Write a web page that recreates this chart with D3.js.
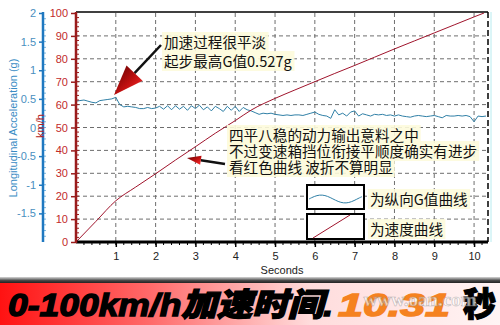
<!DOCTYPE html>
<html>
<head>
<meta charset="utf-8">
<script src="https://cdn.jsdelivr.net/npm/d3@7"></script>
<style>
  body { margin: 0; background: #fff; }
  svg { display: block; }
</style>
</head>
<body>
<div id="chart"></div>
<script>
// speed curve (km/h) against time (s)
var speedTime = [0, 0.5, 1.0, 1.5, 2, 2.5, 3, 3.5, 4, 4.4, 5, 5.5, 6, 6.5, 7, 7.5, 8, 8.5, 9, 9.5, 10, 10.25];
var speedVal = [0, 9, 18, 24, 29.8, 35.8, 41.6, 47.5, 53, 57.6, 62.7, 66.4, 70, 73.6, 77.1, 80.7, 84.3, 87.8, 91.3, 94.8, 98.3, 100];

// longitudinal g, one sample every 0.1 s starting at 0
var gStep = 0.1;
var gVal = [
  0.46, 0.47, 0.48, 0.46, 0.44, 0.43, 0.47, 0.48, 0.49, 0.50,
  0.527, 0.40, 0.36, 0.37, 0.36, 0.35, 0.33, 0.33, 0.35, 0.33,
  0.34, 0.37, 0.32, 0.38, 0.31, 0.38, 0.32, 0.37, 0.30, 0.38,
  0.33, 0.39, 0.31, 0.36, 0.29, 0.37, 0.33, 0.28, 0.37, 0.30,
  0.37, 0.28, 0.35, 0.31, 0.29, 0.26, 0.23, 0.25, 0.24, 0.25,
  0.23, 0.22, 0.21, 0.22, 0.21, 0.22, 0.22, 0.21, 0.23, 0.25,
  0.27, 0.23, 0.21, 0.20, 0.16, 0.31, 0.22, 0.25, 0.20, 0.27,
  0.29, 0.20, 0.24, 0.22, 0.20, 0.23, 0.22, 0.23, 0.21, 0.22,
  0.20, 0.22, 0.20, 0.19, 0.18, 0.20, 0.21, 0.20, 0.19, 0.20,
  0.21, 0.19, 0.17, 0.21, 0.20, 0.20, 0.21, 0.20, 0.21, 0.19,
  0.10, 0.20, 0.19, 0.20
];

var secTicks = [1, 2, 3, 4, 5, 6, 7, 8, 9, 10];
var kmhTicks = [0, 10, 20, 30, 40, 50, 60, 70, 80, 90, 100];
var gTicks = [-1.5, -1, -0.5, 0, 0.5, 1, 1.5, 2];

var note1 = ["加速过程很平淡", "起步最高G值0.527g"];
var note2 = ["四平八稳的动力输出意料之中", "不过变速箱挡位衔接平顺度确实有进步", "看红色曲线  波折不算明显"];
var legendText = ["为纵向G值曲线", "为速度曲线"];

var W = 500, H = 325;
var pL = 76, pR = 488, pT = 13, pB = 242;
var latin = "'Liberation Sans', Arial, sans-serif";
var cjk = "'Noto Sans CJK SC', 'Noto Sans', sans-serif";

var svg = d3.select("#chart").append("svg")
  .attr("width", W)
  .attr("height", H);

var defs = svg.append("defs");
var bg = defs.append("linearGradient").attr("id", "banner");
bg.append("stop").attr("offset", "0%").attr("stop-color", "#ff1212");
bg.append("stop").attr("offset", "30%").attr("stop-color", "#ff6a6a");
bg.append("stop").attr("offset", "62%").attr("stop-color", "#ffdcdc");
bg.append("stop").attr("offset", "100%").attr("stop-color", "#fff4f4");
var shadow = defs.append("linearGradient").attr("id", "shadow")
  .attr("x1", 0).attr("x2", 0).attr("y1", 0).attr("y2", 1);
shadow.append("stop").attr("offset", "0%").attr("stop-color", "#d8d8d8");
shadow.append("stop").attr("offset", "60%").attr("stop-color", "#444");
shadow.append("stop").attr("offset", "100%").attr("stop-color", "#222");
var head = defs.append("linearGradient").attr("id", "arrowhead")
  .attr("x1", 0).attr("x2", 1).attr("y1", 0).attr("y2", 1);
head.append("stop").attr("offset", "0%").attr("stop-color", "#5a0000");
head.append("stop").attr("offset", "55%").attr("stop-color", "#c01010");
head.append("stop").attr("offset", "100%").attr("stop-color", "#ff3030");

var x = d3.scaleLinear().domain([0, 10.35]).range([pL, pR]);
var ySpd = d3.scaleLinear().domain([0, 100]).range([pB, pT]);
var yG = d3.scaleLinear().domain([-2, 2]).range([pB, pT]);

// grid
svg.append("g").selectAll("line").data(secTicks).join("line")
  .attr("x1", d => x(d)).attr("x2", d => x(d))
  .attr("y1", pT).attr("y2", pB)
  .attr("stroke", "#6e6e6e").attr("stroke-dasharray", "4,3");
svg.append("g").selectAll("line").data(kmhTicks.filter(d => d > 0 && d < 100)).join("line")
  .attr("x1", pL).attr("x2", pR)
  .attr("y1", d => ySpd(d)).attr("y2", d => ySpd(d))
  .attr("stroke", "#6e6e6e").attr("stroke-dasharray", "4,3");

// frame
svg.append("line").attr("x1", pL).attr("x2", pR).attr("y1", pT - 1).attr("y2", pT - 1)
  .attr("stroke", "#000").attr("stroke-width", 1.5);
svg.append("line").attr("x1", pR).attr("x2", pR).attr("y1", pT - 1).attr("y2", pB)
  .attr("stroke", "#000").attr("stroke-width", 1.5).attr("stroke-dasharray", "6,3");
svg.append("line").attr("x1", pR + 3).attr("x2", pR + 3).attr("y1", pT - 1).attr("y2", pB)
  .attr("stroke", "#b8ecf0").attr("stroke-width", 1);

// curves
var gLine = d3.line().x((d, i) => x(i * gStep)).y(d => yG(d));
svg.append("path").datum(gVal)
  .attr("d", gLine)
  .attr("fill", "none").attr("stroke", "#2f7fa6").attr("stroke-width", 1);

var spdLine = d3.line().x(d => x(d[0])).y(d => ySpd(d[1])).curve(d3.curveMonotoneX);
svg.append("path").datum(d3.zip(speedTime, speedVal))
  .attr("d", spdLine)
  .attr("fill", "none").attr("stroke", "#a0142c").attr("stroke-width", 1);

// x axis
var xAxis = svg.append("g").attr("transform", "translate(0," + pB + ")")
  .call(d3.axisBottom(x).tickValues(secTicks).tickSize(5).tickPadding(5).tickFormat(d3.format("d")));
xAxis.select(".domain").remove();
xAxis.selectAll("text").attr("font-family", latin).attr("font-size", 11).attr("fill", "#222");
xAxis.selectAll(".tick line").attr("stroke", "#000").attr("stroke-width", 1.5);
svg.append("g").selectAll("line").data(d3.range(0.2, 10.35, 0.2)).join("line")
  .attr("x1", d => x(d)).attr("x2", d => x(d))
  .attr("y1", pB).attr("y2", pB + 3)
  .attr("stroke", "#000");
svg.append("line").attr("x1", pL).attr("x2", pR).attr("y1", pB).attr("y2", pB)
  .attr("stroke", "#000").attr("stroke-width", 3);
svg.append("text").attr("x", 282).attr("y", 274).attr("text-anchor", "middle")
  .attr("font-family", latin).attr("font-size", 11).attr("fill", "#222").text("Seconds");

// speed axis (red)
var yAxisR = svg.append("g").attr("transform", "translate(" + pL + ",0)")
  .call(d3.axisLeft(ySpd).tickValues(kmhTicks).tickSize(5).tickPadding(3));
yAxisR.select(".domain").remove();
yAxisR.selectAll("text").attr("font-family", latin).attr("font-size", 11).attr("fill", "#c22a2a");
yAxisR.selectAll(".tick line").attr("stroke", "#9a1c1c").attr("stroke-width", 1.5);
svg.append("g").selectAll("line").data(d3.range(2, 100, 2)).join("line")
  .attr("x1", pL).attr("x2", pL + 3)
  .attr("y1", d => ySpd(d)).attr("y2", d => ySpd(d))
  .attr("stroke", "#9a1c1c");
svg.append("line").attr("x1", pL).attr("x2", pL).attr("y1", pT - 1).attr("y2", pB + 1)
  .attr("stroke", "#9a1c1c").attr("stroke-width", 2.5);

// g axis (blue)
var yAxisB = svg.append("g").attr("transform", "translate(43,0)")
  .call(d3.axisLeft(yG).tickValues(gTicks).tickSize(4).tickPadding(3).tickFormat(d => String(d)));
yAxisB.select(".domain").remove();
yAxisB.selectAll("text").attr("font-family", latin).attr("font-size", 11).attr("fill", "#4a8fc0");
yAxisB.selectAll(".tick line").attr("stroke", "#1f78c0").attr("stroke-width", 1.5);
svg.append("g").selectAll("line").data(d3.range(-1.9, 2, 0.1)).join("line")
  .attr("x1", 43).attr("x2", 46)
  .attr("y1", d => yG(d)).attr("y2", d => yG(d))
  .attr("stroke", "#7ab8e0");
svg.append("line").attr("x1", 43).attr("x2", 43).attr("y1", pT - 1).attr("y2", pB)
  .attr("stroke", "#1f78c0").attr("stroke-width", 2.5);

svg.append("text").attr("transform", "translate(17,128) rotate(-90)").attr("text-anchor", "middle")
  .attr("font-family", latin).attr("font-size", 11).attr("fill", "#3a8cc4")
  .text("Longitudinal Acceleration (g)");
svg.append("text").attr("transform", "translate(44,126) rotate(-90)").attr("text-anchor", "middle")
  .attr("font-family", latin).attr("font-size", 11).attr("fill", "#b02020")
  .text("km/h");

// annotations
function note(lines, x0, y0, dy) {
  var g = svg.append("g");
  var t = g.selectAll("text").data(lines).join("text")
    .attr("x", x0).attr("y", (d, i) => y0 + i * dy)
    .attr("font-family", cjk).attr("font-size", 14.6).attr("fill", "#111")
    .text(d => d);
  t.each(function() {
    var b = this.getBBox();
    g.insert("rect", "text")
      .attr("x", b.x - 2).attr("y", b.y + 1).attr("width", b.width + 4).attr("height", b.height - 1)
      .attr("fill", "#fdfbdc").attr("opacity", 0.9);
  });
}
note(note1, 164, 48, 19);
note(note2, 229, 141, 16);

function arrow(x0, y0, x1, y1, len, wid) {
  var a = Math.atan2(y1 - y0, x1 - x0);
  var bx = x1 - len * Math.cos(a), by = y1 - len * Math.sin(a);
  var px = Math.sin(a) * wid / 2, py = -Math.cos(a) * wid / 2;
  svg.append("line").attr("x1", x0).attr("y1", y0).attr("x2", bx).attr("y2", by)
    .attr("stroke", "#111").attr("stroke-width", 2.5);
  svg.append("path")
    .attr("d", "M" + x1 + "," + y1 + "L" + (bx + px) + "," + (by + py) + "L" + (bx - px) + "," + (by - py) + "Z")
    .attr("fill", "url(#arrowhead)");
}
arrow(161, 45, 114, 95, 30, 22);
arrow(225, 164, 187, 158, 14, 9);

// legend
svg.append("rect").attr("x", 307).attr("y", 185).attr("width", 57).attr("height", 24)
  .attr("fill", "#fff").attr("stroke", "#000").attr("stroke-width", 2);
svg.append("rect").attr("x", 307).attr("y", 214).attr("width", 57).attr("height", 25)
  .attr("fill", "#fff").attr("stroke", "#000").attr("stroke-width", 2);
var wave = d3.range(0, 1.001, 0.05);
svg.append("path").datum(wave)
  .attr("d", d3.line().x(d => 309 + d * 53).y(d => 199 - 4 * Math.sin(d * Math.PI * 2.2)).curve(d3.curveBasis))
  .attr("fill", "none").attr("stroke", "#2f7fa6").attr("stroke-width", 1);
svg.append("line").attr("x1", 313).attr("y1", 238).attr("x2", 350).attr("y2", 215)
  .attr("stroke", "#a0142c").attr("stroke-width", 1);
note([legendText[0]], 370, 205, 0);
note([legendText[1]], 370, 235, 0);

// banner
svg.append("rect").attr("x", 0).attr("y", 277).attr("width", W).attr("height", 6).attr("fill", "url(#shadow)");
svg.append("rect").attr("x", 0).attr("y", 283).attr("width", W).attr("height", 42).attr("fill", "url(#banner)");
svg.append("text").attr("x", 8).attr("y", 316)
  .attr("font-family", "'Liberation Sans', 'Noto Sans CJK SC', sans-serif")
  .attr("font-size", 32).attr("font-weight", 900).attr("font-style", "italic").attr("fill", "#000")
  .attr("stroke", "#000").attr("stroke-width", 1.4)
  .attr("textLength", 325).attr("lengthAdjust", "spacingAndGlyphs")
  .text("0-100km/h加速时间.");
svg.append("text").attr("x", 338).attr("y", 316)
  .attr("font-family", latin).attr("font-size", 32).attr("font-weight", 900).attr("font-style", "italic")
  .attr("fill", "#f58220").attr("stroke", "#f58220").attr("stroke-width", 1.4)
  .attr("textLength", 112).attr("lengthAdjust", "spacingAndGlyphs")
  .text("10.31");
svg.append("text").attr("x", 463).attr("y", 316)
  .attr("font-family", cjk).attr("font-size", 33).attr("font-weight", 900).attr("fill", "#000")
  .attr("stroke", "#000").attr("stroke-width", 1.2)
  .text("秒");
svg.append("text").attr("x", 420).attr("y", 306).attr("text-anchor", "middle")
  .attr("font-family", "'Liberation Serif', serif").attr("font-size", 19).attr("font-weight", "bold")
  .attr("fill", "#fff").attr("stroke", "#999").attr("stroke-width", 0.6).attr("opacity", 0.65)
  .text("www.oan.com");
</script>
</body>
</html>
